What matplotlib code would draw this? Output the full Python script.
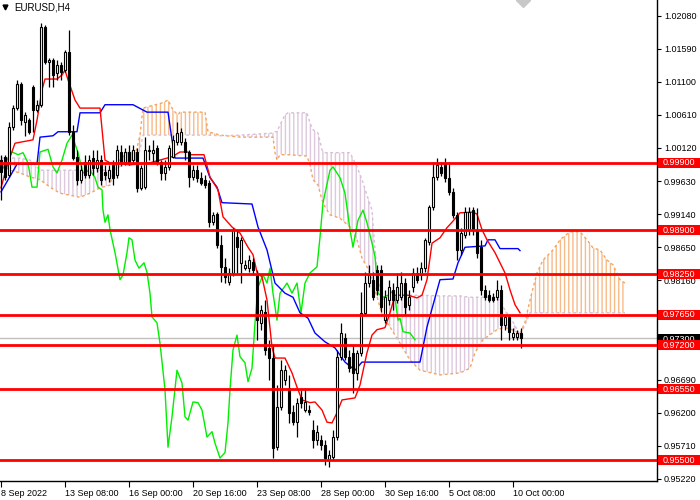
import numpy as np
import matplotlib.pyplot as plt
from matplotlib.patches import Rectangle

plt.rcParams['font.family'] = ['Liberation Sans', 'DejaVu Sans']
plt.rcParams['hatch.linewidth'] = 1.0

# EURUSD H4 candles, one per bar (bar 0 = 8 Sep 2022)
opens = [0.9994, 0.9999, 0.9972, 1.0043, 1.0071, 1.0107, 1.0050, 1.0053, 1.0102, 1.0068,
         1.0076, 1.0191, 1.0139, 1.0142, 1.0123, 1.0135, 1.0127, 1.0154, 1.0036, 0.9999,
         0.9965, 0.9991, 0.9972, 0.9997, 0.9982, 0.9994, 0.9976, 0.9968, 0.9987, 0.9972,
         1.0006, 0.9991, 1.0006, 0.9994, 1.0006, 0.9953, 0.9954, 1.0008, 1.0005, 1.0012,
         0.9991, 0.9975, 0.9984, 0.9999, 1.0021, 1.0021, 1.0021, 1.0006, 0.9969, 0.9979,
         0.9968, 0.9965, 0.9960, 0.9902, 0.9914, 0.9868, 0.9836, 0.9814, 0.9827, 0.9880,
         0.9842, 0.9834, 0.9834, 0.9843, 0.9824, 0.9753, 0.9769, 0.9716, 0.9701, 0.9569,
         0.9629, 0.9669, 0.9657, 0.9621, 0.9606, 0.9643, 0.9624, 0.9624, 0.9595, 0.9580,
         0.9580, 0.9572, 0.9550, 0.9555, 0.9584, 0.9703, 0.9731, 0.9703, 0.9709, 0.9679,
         0.9709, 0.9768, 0.9812, 0.9817, 0.9831, 0.9831, 0.9757, 0.9787, 0.9802, 0.9787,
         0.9791, 0.9812, 0.9780, 0.9806, 0.9827, 0.9824, 0.9834, 0.9873, 0.9925, 0.9969,
         0.9984, 0.9990, 0.9968, 0.9947, 0.9913, 0.9861, 0.9883, 0.9891, 0.9920, 0.9891,
         0.9865, 0.9802, 0.9794, 0.9791, 0.9791, 0.9802, 0.9750, 0.9762, 0.9732, 0.9732,
         0.9738]
highs = [1.0002, 1.0002, 1.0050, 1.0076, 1.0113, 1.0110, 1.0065, 1.0056, 1.0105, 1.0083,
         1.0197, 1.0194, 1.0145, 1.0145, 1.0142, 1.0139, 1.0157, 1.0187, 1.0046, 1.0009,
         0.9987, 1.0002, 1.0002, 1.0009, 1.0009, 1.0002, 0.9987, 0.9987, 0.9994, 1.0016,
         1.0016, 1.0012, 1.0016, 1.0016, 1.0012, 0.9987, 1.0028, 1.0016, 1.0024, 1.0016,
         0.9994, 0.9994, 1.0016, 1.0031, 1.0050, 1.0042, 1.0027, 1.0009, 0.9987, 0.9987,
         0.9976, 0.9972, 0.9965, 0.9917, 0.9917, 0.9883, 0.9849, 0.9834, 0.9894, 0.9891,
         0.9880, 0.9846, 0.9854, 0.9849, 0.9831, 0.9780, 0.9787, 0.9728, 0.9720, 0.9661,
         0.9698, 0.9691, 0.9676, 0.9632, 0.9642, 0.9654, 0.9657, 0.9632, 0.9609, 0.9602,
         0.9587, 0.9580, 0.9565, 0.9595, 0.9713, 0.9753, 0.9738, 0.9713, 0.9720, 0.9713,
         0.9799, 0.9828, 0.9839, 0.9828, 0.9839, 0.9839, 0.9802, 0.9817, 0.9812, 0.9827,
         0.9828, 0.9820, 0.9802, 0.9834, 0.9836, 0.9843, 0.9879, 0.9928, 0.9991, 0.9997,
         0.9991, 0.9997, 0.9991, 0.9953, 0.9917, 0.9894, 0.9925, 0.9925, 0.9925, 0.9923,
         0.9876, 0.9809, 0.9802, 0.9797, 0.9817, 0.9809, 0.9765, 0.9765, 0.9746, 0.9743,
         0.9746]
lows = [0.9935, 0.9965, 0.9969, 1.0039, 1.0068, 1.0046, 1.0030, 1.0033, 1.0035, 1.0065,
        1.0073, 1.0136, 1.0102, 1.0102, 1.0113, 1.0113, 1.0124, 1.0031, 0.9994, 0.9957,
        0.9960, 0.9968, 0.9968, 0.9972, 0.9976, 0.9957, 0.9965, 0.9962, 0.9957, 0.9968,
        0.9985, 0.9987, 0.9987, 0.9990, 0.9947, 0.9950, 0.9951, 0.9994, 0.9991, 0.9987,
        0.9965, 0.9965, 0.9979, 0.9997, 1.0016, 1.0016, 0.9994, 0.9954, 0.9965, 0.9962,
        0.9957, 0.9953, 0.9895, 0.9898, 0.9864, 0.9814, 0.9812, 0.9809, 0.9823, 0.9827,
        0.9812, 0.9831, 0.9828, 0.9824, 0.9728, 0.9743, 0.9706, 0.9669, 0.9553, 0.9565,
        0.9624, 0.9661, 0.9605, 0.9602, 0.9584, 0.9627, 0.9621, 0.9617, 0.9568, 0.9572,
        0.9565, 0.9543, 0.9540, 0.9550, 0.9580, 0.9698, 0.9698, 0.9680, 0.9649, 0.9669,
        0.9704, 0.9765, 0.9806, 0.9787, 0.9794, 0.9769, 0.9753, 0.9780, 0.9772, 0.9783,
        0.9787, 0.9765, 0.9772, 0.9799, 0.9812, 0.9817, 0.9828, 0.9868, 0.9920, 0.9965,
        0.9971, 0.9962, 0.9942, 0.9908, 0.9846, 0.9854, 0.9879, 0.9883, 0.9883, 0.9849,
        0.9794, 0.9787, 0.9784, 0.9784, 0.9787, 0.9728, 0.9743, 0.9728, 0.9728, 0.9728,
        0.9716]
closes = [0.9976, 0.9969, 1.0043, 1.0071, 1.0107, 1.0053, 1.0061, 1.0036, 1.0068, 1.0076,
          1.0191, 1.0139, 1.0142, 1.0120, 1.0135, 1.0124, 1.0154, 1.0036, 0.9997, 0.9965,
          0.9979, 0.9972, 0.9994, 0.9982, 0.9994, 0.9965, 0.9972, 0.9979, 0.9968, 1.0009,
          0.9991, 1.0006, 0.9991, 1.0009, 0.9953, 0.9982, 1.0009, 1.0009, 1.0009, 0.9991,
          0.9975, 0.9984, 1.0012, 1.0024, 1.0034, 1.0036, 1.0006, 0.9969, 0.9979, 0.9968,
          0.9960, 0.9957, 0.9902, 0.9913, 0.9868, 0.9836, 0.9821, 0.9827, 0.9891, 0.9865,
          0.9876, 0.9839, 0.9846, 0.9831, 0.9757, 0.9772, 0.9713, 0.9701, 0.9568, 0.9629,
          0.9683, 0.9683, 0.9620, 0.9606, 0.9635, 0.9635, 0.9636, 0.9621, 0.9580, 0.9592,
          0.9572, 0.9553, 0.9558, 0.9584, 0.9703, 0.9738, 0.9703, 0.9686, 0.9679, 0.9709,
          0.9768, 0.9812, 0.9824, 0.9791, 0.9802, 0.9777, 0.9791, 0.9806, 0.9787, 0.9806,
          0.9812, 0.9777, 0.9791, 0.9827, 0.9817, 0.9834, 0.9876, 0.9925, 0.9969, 0.9987,
          0.9975, 0.9968, 0.9947, 0.9913, 0.9861, 0.9886, 0.9917, 0.9917, 0.9891, 0.9857,
          0.9802, 0.9791, 0.9787, 0.9787, 0.9802, 0.9750, 0.9762, 0.9740, 0.9738, 0.9738,
          0.9730]

# Ichimoku lines (bar position, price)
tenkan_x = [0, 1.75, 3.5, 8, 9, 10.25, 11, 14, 15.25, 16, 16.75, 18.5, 19.75, 24.75, 26, 27.25,
            32.25, 37.25, 42.75, 44.75, 46.75, 47.25, 50.75, 52.25, 54.25, 55.5, 57.75, 59.75,
            61.75, 63, 64, 65.25, 66.5, 67.75, 68.5, 71, 72.75, 74, 75.25, 77.25, 78.5, 80.25,
            81.5, 82.75, 84, 85.25, 88.5, 89.75, 91.5, 92.75, 94, 96, 97.25, 98.5, 101.75, 104,
            105.25, 106.5, 107.75, 109.75, 111.5, 112.75, 114.75, 118, 119, 120.25, 121.5,
            123.5, 126, 127.25, 128.5, 129.75]
tenkan = [0.9953, 0.9990, 1.0019, 1.0024, 1.0053, 1.0098, 1.0114, 1.0114, 1.0120, 1.0127,
          1.0113, 1.0083, 1.0071, 1.0071, 0.9994, 0.9990, 0.9987, 0.9990, 0.9999, 1.0006,
          1.0006, 1.0002, 1.0002, 0.9969, 0.9950, 0.9910, 0.9895, 0.9886, 0.9865, 0.9854,
          0.9828, 0.9821, 0.9787, 0.9717, 0.9701, 0.9701, 0.9679, 0.9658, 0.9639, 0.9635,
          0.9636, 0.9624, 0.9606, 0.9605, 0.9620, 0.9639, 0.9642, 0.9661, 0.9709, 0.9735,
          0.9743, 0.9746, 0.9768, 0.9794, 0.9794, 0.9790, 0.9794, 0.9817, 0.9871, 0.9879,
          0.9894, 0.9902, 0.9916, 0.9917, 0.9914, 0.9891, 0.9876, 0.9857, 0.9827, 0.9802,
          0.9780, 0.9768]

kijun_x = [0, 1, 2.75, 4, 9, 9.75, 13, 14.25, 19, 19.75, 24.75, 26, 33, 36.5, 41.75, 42.75,
           43.5, 50.5, 52.25, 54, 55.25, 62.75, 64.25, 66.5, 68.5, 71, 73, 74.75, 76.75, 78.5,
           81, 83.5, 86, 88.5, 90.25, 104.75, 106.5, 109.75, 113, 114.25, 116, 121, 121.75,
           123.5, 124.75, 129.25, 129.75]
kijun = [0.9947, 0.9957, 0.9975, 0.9988, 0.9988, 1.0028, 1.0030, 1.0036, 1.0036, 1.0064,
         1.0064, 1.0076, 1.0076, 1.0065, 1.0065, 1.0024, 0.9997, 0.9997, 0.9968, 0.9954,
         0.9931, 0.9929, 0.9895, 0.9861, 0.9812, 0.9797, 0.9791, 0.9768, 0.9760, 0.9738,
         0.9725, 0.9716, 0.9695, 0.9683, 0.9695, 0.9695, 0.9747, 0.9817, 0.9818, 0.9842,
         0.9865, 0.9867, 0.9876, 0.9876, 0.9863, 0.9863, 0.9860]

chikou_x = [0, 1.5, 2.75, 4.25, 5.5, 6.75, 7.75, 9, 9.75, 11.75, 13, 14, 15.25, 16.5, 17.75,
            19.25, 20.5, 22.25, 23.5, 24.25, 25.25, 25.5, 26, 26.75, 27.25, 28.5, 29.75, 30.5,
            31.5, 32, 32.75, 33.5, 34.5, 35.75, 36.5, 37.25, 37.75, 39, 39.75, 41, 41.75,
            42.75, 44, 45.25, 46, 46.75, 48, 49.25, 50.25, 51.5, 52.75, 53.5, 54.75, 56, 56.75,
            57.25, 58, 59, 59.75, 61, 61.75, 62.75, 63.5, 64.25, 65.5, 66.5, 67.25, 68, 69,
            69.75, 71.5, 72.75, 74, 75, 76, 77.25, 79, 79.75, 80.5, 82.25, 83, 84.75, 86,
            87.25, 88, 89.25, 90.5, 91.5, 92.75, 93.5, 94.25, 95.5, 96.75, 97.75, 98.5, 99.25,
            99.75, 100.5, 102.25, 103.5]
chikou = [0.9976, 0.9994, 1.0006, 1.0002, 1.0005, 0.9990, 0.9954, 0.9954, 1.0006, 1.0010,
          0.9984, 0.9975, 0.9994, 1.0019, 1.0031, 1.0005, 0.9975, 0.9979, 0.9968, 0.9954,
          0.9950, 0.9920, 0.9902, 0.9913, 0.9891, 0.9857, 0.9817, 0.9824, 0.9857, 0.9879,
          0.9876, 0.9846, 0.9834, 0.9842, 0.9828, 0.9797, 0.9762, 0.9753, 0.9723, 0.9654,
          0.9569, 0.9614, 0.9683, 0.9664, 0.9614, 0.9609, 0.9636, 0.9635, 0.9624, 0.9584,
          0.9592, 0.9575, 0.9553, 0.9561, 0.9605, 0.9654, 0.9713, 0.9735, 0.9703, 0.9694,
          0.9666, 0.9686, 0.9753, 0.9806, 0.9824, 0.9812, 0.9834, 0.9797, 0.9757, 0.9797,
          0.9812, 0.9797, 0.9812, 0.9768, 0.9812, 0.9827, 0.9836, 0.9880, 0.9931, 0.9979,
          0.9984, 0.9968, 0.9945, 0.9891, 0.9865, 0.9905, 0.9920, 0.9901, 0.9871, 0.9851,
          0.9797, 0.9791, 0.9794, 0.9799, 0.9790, 0.9757, 0.9760, 0.9740, 0.9738, 0.9728]

cloud_x = [0, 2.25, 4.75, 7.25, 9.75, 12.25, 14.75, 19.75, 22.25, 24.75, 27.25, 28, 29, 31.5,
           33.75, 34.75, 35.5, 40.5, 41.75, 43, 44.25, 44.75, 51, 51.75, 54.75, 59.75, 68,
           68.5, 69, 69.75, 71, 71.75, 76.5, 77.25, 78, 79.25, 80.25, 81, 82.25, 84.75, 87.25,
           89, 90.25, 91.5, 92.75, 93.5, 94.25, 95.25, 97.25, 99.75, 102.25, 104.75, 109.75,
           114.75, 117.25, 118.5, 120.5, 124, 126, 127.75, 129.75, 131, 132.25, 134, 135.5,
           138, 139.75, 142.25, 144.75, 146.5, 148, 149.75, 151.5, 153, 154.75, 156]
span_a = [0.9987, 0.9979, 0.9975, 0.9969, 0.9965, 0.9954, 0.9945, 0.9939, 0.9945, 0.9953,
          0.9957, 0.9975, 0.9990, 1.0005, 1.0006, 1.0031, 1.0071, 1.0079, 1.0083, 1.0068,
          1.0061, 1.0065, 1.0065, 1.0036, 1.0031, 1.0028, 1.0028, 1.0005, 0.9994, 1.0002,
          1.0002, 1.0002, 1.0000, 0.9987, 0.9965, 0.9957, 0.9935, 0.9925, 0.9913, 0.9908,
          0.9895, 0.9876, 0.9849, 0.9836, 0.9817, 0.9802, 0.9787, 0.9765, 0.9747, 0.9723,
          0.9698, 0.9683, 0.9676, 0.9679, 0.9686, 0.9709, 0.9728, 0.9743, 0.9746, 0.9743,
          0.9737, 0.9754, 0.9787, 0.9827, 0.9846, 0.9861, 0.9876, 0.9888, 0.9888, 0.9876,
          0.9864, 0.9861, 0.9846, 0.9839, 0.9817, 0.9812]
span_b = [0.9997, 0.9997, 0.9997, 0.9994, 0.9979, 0.9979, 0.9979, 0.9979, 0.9979, 0.9979,
          0.9979, 0.9979, 0.9982, 0.9991, 0.9994, 1.0009, 1.0031, 1.0031, 1.0031, 1.0031,
          1.0031, 1.0031, 1.0031, 1.0031, 1.0030, 1.0031, 1.0034, 1.0036, 1.0036, 1.0046,
          1.0061, 1.0064, 1.0064, 1.0049, 1.0039, 1.0034, 1.0009, 1.0005, 1.0005, 1.0005,
          1.0005, 0.9984, 0.9965, 0.9942, 0.9920, 0.9861, 0.9817, 0.9787, 0.9793, 0.9794,
          0.9794, 0.9794, 0.9793, 0.9793, 0.9791, 0.9791, 0.9791, 0.9791, 0.9772, 0.9757,
          0.9735, 0.9750, 0.9768, 0.9768, 0.9768, 0.9768, 0.9768, 0.9768, 0.9768, 0.9768,
          0.9768, 0.9768, 0.9768, 0.9768, 0.9768, 0.9768]

levels = [0.9990, 0.9890, 0.9825, 0.9765, 0.9720, 0.9655, 0.9550]
last_price = 0.9730
price_ticks = [1.0208, 1.0159, 1.0110, 1.0061, 1.0012, 0.9963, 0.9914, 0.9865, 0.9816,
               0.9767, 0.9718, 0.9669, 0.9620, 0.9571, 0.9522]
hidden_ticks = [0.9767, 0.9718]  # these sit under the level labels
time_ticks = [0, 16, 32, 48, 64, 80, 96, 112, 128]
time_labels = ["8 Sep 2022", "13 Sep 08:00", "16 Sep 00:00", "20 Sep 16:00", "23 Sep 08:00",
               "28 Sep 00:00", "30 Sep 16:00", "5 Oct 08:00", "10 Oct 00:00"]

o = np.array(opens)
h = np.array(highs)
l = np.array(lows)
c = np.array(closes)
bars = np.arange(len(o))
a = np.array(span_a)
b = np.array(span_b)

fig = plt.figure(figsize=(7, 5), dpi=100)
ax = fig.add_axes([0, 19 / 500, 657 / 700, 481 / 500])
ax.set_xlim(-0.25, 164)
ax.set_ylim(0.9519, 1.0231)

# cloud
ax.fill_between(cloud_x, a, b, where=a >= b, interpolate=True, facecolor='none',
                edgecolor='#f4a460', hatch='||||', linewidth=0, alpha=0.75, zorder=1)
ax.fill_between(cloud_x, a, b, where=a < b, interpolate=True, facecolor='none',
                edgecolor='#d8bfd8', hatch='||||', linewidth=0, alpha=0.85, zorder=1)
ax.plot(cloud_x, span_a, color='#f4a460', lw=1, ls=(0, (2, 2)), zorder=1.2)
ax.plot(cloud_x, span_b, color='#d8bfd8', lw=1, ls=(0, (2, 2)), zorder=1.2)

ax.axhline(last_price, color='#c0c0c0', lw=1, zorder=1.5)

ax.plot(chikou_x, chikou, color='#00ee00', lw=1, zorder=2)
ax.plot(kijun_x, kijun, color='#0000ff', lw=1, zorder=2)
ax.plot(tenkan_x, tenkan, color='#ff0000', lw=1, zorder=2)

# candles
up = c >= o
ax.vlines(bars, l, h, color='black', lw=0.9, zorder=3)
body_low = np.minimum(o, c)
body_h = np.abs(c - o)
ax.bar(bars[up], body_h[up], bottom=body_low[up], width=0.7, facecolor='white',
       edgecolor='black', linewidth=0.8, zorder=4)
ax.bar(bars[~up], body_h[~up], bottom=body_low[~up], width=0.7, facecolor='black',
       edgecolor='black', linewidth=0.8, zorder=4)

# support / resistance levels
for lv in levels:
    ax.axhline(lv, color='#ff0000', lw=2, zorder=5)

# price labels on the right scale: box 42 px wide, 10 px high
ytr = ax.get_yaxis_transform()
box_w = 42 / 657
box_h = 10 * (1.0231 - 0.9519) / 481


def price_label(y, text, face, z):
    ax.add_patch(Rectangle((1.0015, y - box_h / 2), box_w, box_h, transform=ytr,
                           facecolor=face, edgecolor='none', clip_on=False, zorder=z))
    ax.text(1.0015 + box_w / 2, y, text, transform=ytr, va='center', ha='center',
            color='white', fontsize=6.5, clip_on=False, zorder=z + 0.1)


# the black last-price tag sits mostly behind the 0.97200 tag
price_label(last_price - 0.00015, f"{last_price:.5f}", 'black', 6)
for lv in levels:
    price_label(lv, f"{lv:.5f}", '#ff0000', 7)

ax.yaxis.tick_right()
ax.set_yticks(price_ticks)
ax.set_yticklabels(["" if v in hidden_ticks else f"{v:.5f}" for v in price_ticks])
ax.tick_params(axis='y', direction='out', length=3, width=0.8, pad=2, labelsize=6.5)
ax.set_xticks(time_ticks)
ax.set_xticklabels(time_labels)
for lbl in ax.get_xticklabels():
    lbl.set_horizontalalignment('left')
ax.tick_params(axis='x', direction='out', length=4, width=0.8, pad=2, labelsize=6.5)

for side in ['left', 'top']:
    ax.spines[side].set_visible(False)
for side in ['right', 'bottom']:
    ax.spines[side].set_linewidth(1)

# header and shift marker
ax.plot([5 / 657], [1 - 7 / 481], marker='v', color='black', markersize=3.5,
        transform=ax.transAxes, clip_on=False)
ax.text(14 / 657, 1 - 7 / 481, "EURUSD,H4", transform=ax.transAxes, fontsize=7,
        va='center', ha='left')
ax.plot([523 / 657], [1.0], marker='D', color='#c8c8c8', markersize=7,
        transform=ax.transAxes, clip_on=False)

fig.savefig("out.png", dpi=100)
